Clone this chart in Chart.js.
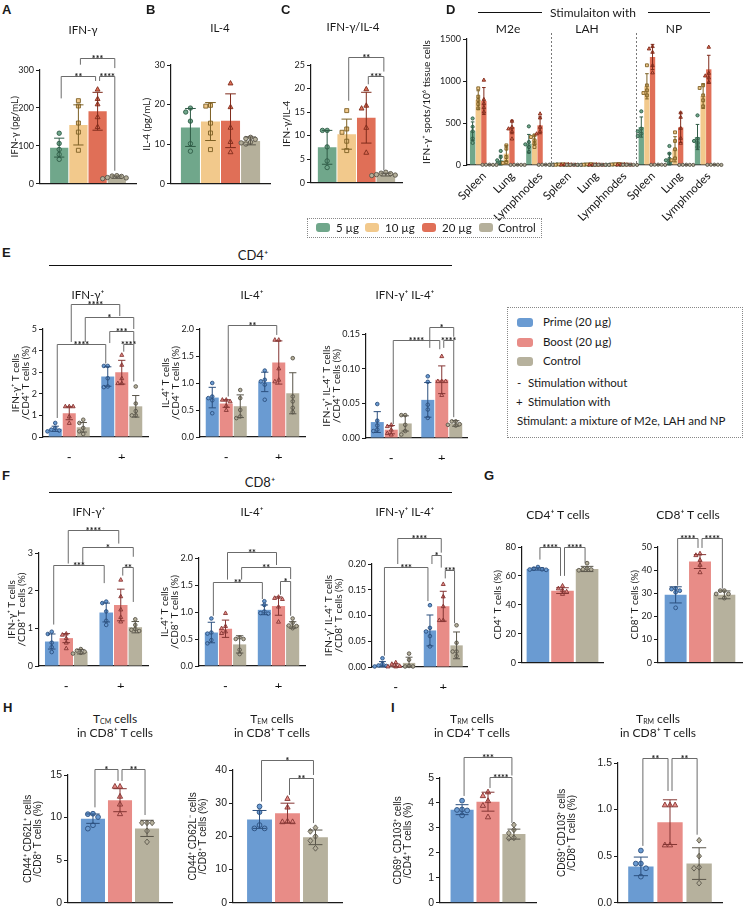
<!DOCTYPE html>
<html lang="en">
<head>
<meta charset="UTF-8">
<title>Immunogenicity panels</title>
<script src="https://cdn.jsdelivr.net/npm/chart.js"></script>
<style>
  body { margin: 0; background: #fff; }
  #stage { position: relative; width: 750px; height: 913px; overflow: hidden; font-family: Lato, "DejaVu Sans", sans-serif; color: #1a1a1a; }
  #stage canvas { position: absolute; }
  .t { position: absolute; white-space: nowrap; transform: translate(-50%, -50%); line-height: 1; }
  .letter { position: absolute; font: bold 13px "Liberation Sans", Arial, sans-serif; line-height: 1; }
  .rule { position: absolute; height: 0; border-top: 1.5px solid #111; }
  .box { position: absolute; border: 1px dotted #888; box-sizing: border-box; }
  .sw { position: absolute; width: 15px; height: 9px; border-radius: 3px; }
  .lg { position: absolute; white-space: nowrap; font-size: 11.5px; line-height: 1; transform: translateY(-50%); }
  .rot { position: absolute; white-space: nowrap; font-size: 11.5px; line-height: 12px; color: #111; transform-origin: 100% 50%; transform: rotate(-45deg); }
  sub { font-size: 7px; vertical-align: -1px; }
</style>
</head>
<body>
<div id="stage"></div>
<script>
// ---------- A-C: cytokines, groups 5 / 10 / 20 ug and Control
const doseGroups = ['5 µg', '10 µg', '20 µg', 'Control'];
const ifngMean = [95, 155, 191, 17];
const ifngSd = [25, 53, 50, 3];
const ifngPts = [[133, 106, 90, 77, 64], [219, 205, 160, 136, 88], [249, 224, 210, 176, 150], [21, 19, 16, 13, 15, 20]];
const ifngSig = [[0, 2, 285, '**', 225, 271], [1, 3, 331, '***', 314, 305], [2, 3, 285, '****', 271, 34]];

const il4Mean = [14.2, 15.7, 15.9, 10.8];
const il4Sd = [4.8, 4.8, 6.8, 1.0];
const il4Pts = [[19.1, 18.1, 15.8, 10.1, 8.2], [19.8, 19.6, 15.3, 12.8, 8.6], [25.4, 19.4, 14.2, 10.6, 8.0], [11.7, 11.2, 10.5, 10.0, 10.3, 11.4]];

const ratioMean = [7.5, 10.3, 13.8, 1.7];
const ratioSd = [3.6, 3.2, 5.4, 0.3];
const ratioPts = [[11.1, 11.1, 7.6, 4.6, 3.2], [15.3, 11.4, 10.7, 8.8, 6.8], [19.9, 16.4, 15.8, 11.7, 6.4], [2.2, 1.9, 1.7, 1.5, 1.6, 2.0]];
const ratioSig = [[1, 3, 26.8, '**', 17.4, 23.6], [2, 3, 22.7, '***', 20.9, 2.6]];

// ---------- D: ELISpot, 3 stimulants x 3 tissues
const stimulants = ['M2e', 'LAH', 'NP'];
const tissues = ['Spleen', 'Lung', 'Lymphnodes'];
const spot5Mean = [403, 56, 254, 5, 3, 4, 452, 63, 333];
const spot5Sd = [110, 60, 110, 3, 2, 3, 120, 80, 150];
const spot5Pts = [[554, 455, 403, 315, 263], [167, 95, 56, 28, 16], [460, 274, 246, 214, 155], [8, 5, 4, 3, 2], [5, 3, 2, 2, 1], [6, 4, 4, 3, 2], [639, 433, 400, 373, 345], [226, 135, 75, 56, 24], [591, 313, 286, 262, 214]];
const spot10Mean = [774, 135, 302, 5, 6, 8, 937, 187, 821];
const spot10Sd = [110, 95, 55, 3, 4, 5, 150, 150, 147];
const spot10Pts = [[913, 814, 774, 726, 674], [234, 194, 95, 36, 24], [353, 333, 294, 254, 214], [8, 6, 5, 3, 2], [10, 7, 6, 4, 3], [12, 9, 7, 6, 5], [1187, 948, 889, 857, 829], [389, 286, 187, 79, 56], [948, 917, 829, 770, 698]];
const spot20Mean = [762, 452, 472, 6, 4, 5, 1286, 448, 1139];
const spot20Sd = [160, 80, 100, 3, 3, 4, 150, 180, 167];
const spot20Pts = [[1013, 782, 734, 686, 634], [524, 452, 433, 401, 313], [611, 563, 452, 401, 373], [9, 7, 5, 4, 3], [7, 5, 4, 3, 2], [8, 6, 5, 4, 3], [1413, 1385, 1345, 1187, 1100], [623, 571, 440, 321, 262], [1405, 1095, 1063, 1040, 988]];
const spotCtrlMean = [3, 2, 3, 2, 2, 3, 3, 2, 3];
const spotCtrlSd = [1, 1, 1, 1, 1, 1, 1, 1, 1];
const spotCtrlPts = [[4, 3, 2, 2, 1], [3, 2, 2, 1, 1], [4, 3, 3, 2, 1], [3, 2, 2, 1, 1], [3, 2, 2, 1, 1], [4, 3, 2, 2, 1], [4, 3, 3, 2, 1], [3, 2, 2, 1, 1], [4, 3, 3, 2, 1]];

// ---------- E-I: Prime / Boost / Control, stimulation - / +
const vaccGroups = ['Prime (20 µg)', 'Boost (20 µg)', 'Control'];
const stimLabels = ['-', '+'];

const cd4IfngMean = [[0.38, 2.8], [1.1, 3.0], [0.45, 1.42]];
const cd4IfngSd = [[0.12, 0.45], [0.3, 0.55], [0.22, 0.5]];
const cd4IfngPts = [[[0.65, 0.42, 0.34, 0.3, 0.26], [3.29, 3.29, 2.72, 2.34, 2.31]], [[1.42, 1.42, 1.42, 0.95, 0.65], [3.8, 3.34, 2.72, 2.49, 2.49]], [[0.8, 0.65, 0.42, 0.26, 0.14], [2.34, 1.55, 1.2, 1.0, 1.0]]];
const cd4IfngSig = [[0, 3, 4.29, '****', 0.88, 3.4], [1, 4, 6.16, '****', 4.4, 5.6], [2, 5, 5.57, '*', 4.4, 5.0], [3, 5, 4.9, '***', 4.35, 4.4], [4, 5, 4.29, '****', 3.95, 2.57]];

const cd4Il4Mean = [[0.73, 1.02], [0.62, 1.38], [0.57, 0.81]];
const cd4Il4Sd = [[0.19, 0.18], [0.07, 0.4], [0.21, 0.38]];
const cd4Il4Pts = [[[1.0, 0.75, 0.72, 0.68, 0.44], [1.23, 1.06, 1.03, 0.97, 0.69]], [[0.69, 0.69, 0.66, 0.58, 0.5], [1.8, 1.8, 1.27, 1.06, 1.03]], [[0.87, 0.72, 0.5, 0.38, 0.35], [1.46, 0.75, 0.66, 0.54, 0.46]]];
const cd4Il4Sig = [[1, 4, 2.07, '**', 0.75, 1.89]];

const cd4DualMean = [[0.023, 0.055], [0.012, 0.084], [0.021, 0.021]];
const cd4DualSd = [[0.015, 0.025], [0.006, 0.02], [0.011, 0.004]];
const cd4DualPts = [[[0.049, 0.025, 0.018, 0.012, 0.01], [0.089, 0.081, 0.048, 0.041, 0.029]], [[0.019, 0.017, 0.012, 0.007, 0.005], [0.118, 0.082, 0.082, 0.082, 0.062]], [[0.033, 0.033, 0.019, 0.01, 0.005], [0.024, 0.024, 0.02, 0.019, 0.018]]];
const cd4DualSig = [[1, 4, 0.141, '****', 0.02, 0.128], [3, 5, 0.16, '*', 0.13, 0.146], [4, 5, 0.141, '****', 0.13, 0.03]];

const cd8IfngMean = [[0.65, 1.42], [0.74, 1.62], [0.38, 1.03]];
const cd8IfngSd = [[0.2, 0.25], [0.12, 0.42], [0.06, 0.15]];
const cd8IfngPts = [[[0.91, 0.85, 0.62, 0.5, 0.37], [1.71, 1.67, 1.45, 1.2, 1.09]], [[0.86, 0.83, 0.74, 0.62, 0.47], [2.29, 1.85, 1.5, 1.3, 1.18]], [[0.45, 0.41, 0.38, 0.35, 0.33], [1.24, 1.09, 0.98, 0.96, 0.93]]];
const cd8IfngSig = [[1, 4, 3.61, '****', 2.72, 3.25], [2, 5, 3.17, '*', 2.72, 2.9], [0, 3, 2.68, '***', 1.1, 2.2], [4, 5, 2.63, '**', 2.4, 1.7]];

const cd8Il4Mean = [[0.62, 1.04], [0.69, 1.11], [0.40, 0.76]];
const cd8Il4Sd = [[0.19, 0.09], [0.16, 0.17], [0.16, 0.06]];
const cd8Il4Pts = [[[0.88, 0.62, 0.6, 0.48, 0.42], [1.2, 1.13, 1.01, 0.98, 0.97]], [[0.98, 0.74, 0.7, 0.64, 0.61], [1.28, 1.26, 1.24, 1.1, 0.82]], [[0.53, 0.5, 0.5, 0.3, 0.22], [0.88, 0.8, 0.75, 0.74, 0.7]]];
const cd8Il4Sig = [[1, 4, 2.12, '**', 1.6, 1.87], [2, 5, 1.83, '**', 1.6, 1.61], [0, 3, 1.56, '**', 0.93, 1.24], [4, 5, 1.57, '*', 1.32, 0.93]];

const cd8DualMean = [[0.0045, 0.071], [0.003, 0.118], [0.008, 0.042]];
const cd8DualSd = [[0.006, 0.03], [0.003, 0.029], [0.011, 0.026]];
const cd8DualPts = [[[0.017, 0.006, 0.003, 0.002, 0.001], [0.12, 0.076, 0.069, 0.06, 0.04]], [[0.009, 0.006, 0.002, 0.001, 0.001], [0.161, 0.137, 0.118, 0.091, 0.091]], [[0.026, 0.014, 0.002, 0.001, 0.001], [0.081, 0.047, 0.03, 0.03, 0.021]]];
const cd8DualSig = [[1, 4, 0.25, '****', 0.2, 0.222], [3, 4, 0.217, '*', 0.2, 0.193], [0, 3, 0.194, '***', 0.022, 0.128], [4, 5, 0.188, '***', 0.172, 0.085]];

const cd4FreqMean = [64.8, 49.8, 64.8];
const cd4FreqSd = [0.8, 2.0, 1.8];
const cd4FreqPts = [[66.1, 65, 64.6, 64.4, 64.2], [53.2, 51.4, 50.3, 49.2, 47.6], [68.8, 65.2, 64.6, 64.4, 63.9]];
const cd4FreqSig = [[0, 1, 80.2, '****', 71.3, 60], [1, 2, 80.2, '****', 60, 69]];

const cd8FreqMean = [29.3, 43.7, 29.3];
const cd8FreqSd = [3.5, 3.0, 1.7];
const cd8FreqPts = [[32.1, 31.8, 31.1, 30.4, 23.7], [47.2, 46.5, 44.4, 42.3, 39.1], [31.1, 31.1, 29.7, 29.7, 27.9]];
const cd8FreqSig = [[0, 1, 53.8, '****', 33.3, 49.6], [1, 2, 53.8, '****', 49.6, 32]];

const tcmMean = [9.87, 12.04, 8.73];
const tcmSd = [0.55, 1.35, 0.95];
const tcmPts = [[10.45, 10.4, 10.06, 9.1, 8.7], [13.67, 13.67, 12.5, 11.58, 10.45], [9.38, 9.38, 9.38, 8.43, 7.14]];
const tcmSig = [[0, 1, 15.65, '*', 11.2, 14.3], [1, 2, 15.65, '**', 14.3, 10.3]];

const temMean = [25.1, 27.0, 19.7];
const temSd = [2.7, 3.0, 2.2];
const temPts = [[29, 27.3, 23.4, 22.4, 22.4], [31.4, 28.8, 24.6, 24.4, 24.4], [22.6, 21.5, 20, 18.7, 16.4]];
const temSig = [[0, 2, 43.1, '*', 30.5, 38.5], [1, 2, 37.5, '**', 32.5, 24]];

const trm4Mean = [3.73, 4.05, 2.75];
const trm4Sd = [0.2, 0.38, 0.2];
const trm4Pts = [[4.09, 3.74, 3.72, 3.7, 3.5], [4.44, 4.29, 4.09, 3.9, 3.44], [3.12, 2.92, 2.79, 2.6, 2.58]];
const trm4Sig = [[0, 2, 5.85, '***', 4.28, 5.1], [1, 2, 5.05, '****', 4.6, 3.2]];

const trm8Mean = [0.39, 0.865, 0.42];
const trm8Sd = [0.1, 0.24, 0.17];
const trm8Pts = [[0.56, 0.42, 0.42, 0.37, 0.28], [1.05, 1.05, 1.05, 0.62, 0.62], [0.67, 0.5, 0.38, 0.37, 0.21]];
const trm8Sig = [[0, 1, 1.555, '**', 0.61, 1.2], [1, 2, 1.555, '**', 1.2, 0.73]];

// ---------- styles
const doseStyle = [
  { color: '#70a78b', edge: '#2f5b46', marker: 'circle' },
  { color: '#f2c98c', edge: '#7d6024', marker: 'square' },
  { color: '#e06f57', edge: '#7f2b1b', marker: 'triangle' },
  { color: '#b5b09b', edge: '#59554a', marker: 'circle' }
];
const vaccStyle = [
  { color: '#6a9bd2', edge: '#2b4f7e', marker: 'circle' },
  { color: '#e88c87', edge: '#843533', marker: 'triangle' },
  { color: '#b6b19d', edge: '#59554a', marker: 'circle' }
];
const lato = 'Lato, "DejaVu Sans", sans-serif';
const arial = '"Liberation Sans", Arial, sans-serif';

const stage = document.getElementById('stage');
const one = a => a.map(v => [v]);

function drawMarker(ctx, type, x, y, r, fill, edge) {
  ctx.beginPath();
  if (type === 'square') ctx.rect(x - r * 0.9, y - r * 0.9, r * 1.8, r * 1.8);
  else if (type === 'triangle') { ctx.moveTo(x, y - r * 1.2); ctx.lineTo(x + r * 1.1, y + r * 0.8); ctx.lineTo(x - r * 1.1, y + r * 0.8); ctx.closePath(); }
  else if (type === 'diamond') { ctx.moveTo(x, y - r * 1.2); ctx.lineTo(x + r, y); ctx.lineTo(x, y + r * 1.2); ctx.lineTo(x - r, y); ctx.closePath(); }
  else ctx.arc(x, y, r, 0, Math.PI * 2);
  ctx.fillStyle = fill; ctx.strokeStyle = edge; ctx.lineWidth = 0.9;
  ctx.fill(); ctx.stroke();
}

// error bars, dots, significance brackets
function makeOverlay(spec) {
  return {
    id: 'overlay',
    afterDatasetsDraw(chart) {
      const ctx = chart.ctx, ys = chart.scales.y, xs = chart.scales.x;
      const area = chart.chartArea;
      const n = chart.data.datasets.length;
      ctx.save();
      if (spec.dividers) {
        ctx.strokeStyle = '#555'; ctx.lineWidth = 0.8; ctx.setLineDash([2, 2]);
        spec.dividers.forEach(v => {
          const x = Math.round(xs.getPixelForValue(v)) + 0.5;
          ctx.beginPath(); ctx.moveTo(x, area.top - 6); ctx.lineTo(x, area.bottom); ctx.stroke();
        });
        ctx.setLineDash([]);
      }
      chart.data.datasets.forEach((ds, di) => {
        chart.getDatasetMeta(di).data.forEach((bar, ci) => {
          const m = ds.data[ci], s = ds.sd[ci];
          const cap = Math.max(1.8, bar.width * 0.28);
          const yt = ys.getPixelForValue(m + s), yb = ys.getPixelForValue(Math.max(0, m - s));
          const step = spec.r * 2 + 0.3;
          const placed = [];
          ds.pts[ci].map(v => ys.getPixelForValue(v)).sort((a, b) => a - b).forEach(py => {
            let px = bar.x;
            for (let k = 0; k < 15; k++) {
              const off = Math.ceil(k / 2) * step * (k % 2 ? -1 : 1);
              if (!placed.some(p => Math.hypot(p[0] - (bar.x + off), p[1] - py) < step - 0.2)) { px = bar.x + off; break; }
            }
            placed.push([px, py]);
            drawMarker(ctx, ds.marker, px, py, spec.r, ds.backgroundColor, ds.edge);
          });
          ctx.strokeStyle = ds.edge; ctx.lineWidth = 1;
          ctx.beginPath();
          ctx.moveTo(bar.x, yt); ctx.lineTo(bar.x, yb);
          ctx.moveTo(bar.x - cap, yt); ctx.lineTo(bar.x + cap, yt);
          ctx.moveTo(bar.x - cap, yb); ctx.lineTo(bar.x + cap, yb);
          ctx.stroke();
        });
      });
      const bx = i => chart.getDatasetMeta(i % n).data[Math.floor(i / n)].x;
      (spec.sig || []).forEach(([a, b, lvl, txt, la, lb]) => {
        const x1 = bx(a) + 2, x2 = bx(b) - 2, y = Math.round(ys.getPixelForValue(lvl)) + 0.5;
        ctx.strokeStyle = '#6b6b6b'; ctx.lineWidth = 1;
        ctx.beginPath();
        ctx.moveTo(x1, ys.getPixelForValue(la)); ctx.lineTo(x1, y); ctx.lineTo(x2, y); ctx.lineTo(x2, ys.getPixelForValue(lb));
        ctx.stroke();
        ctx.fillStyle = '#111'; ctx.font = 'bold 9px ' + lato;
        ctx.textAlign = 'center'; ctx.textBaseline = 'alphabetic';
        ctx.fillText(txt, (x1 + x2) / 2, y + 3);
      });
      ctx.restore();
    }
  };
}

function draw(spec) {
  const yW = spec.L - spec.titleX + 8, padT = 40, padR = 8, xH = spec.xH || 4;
  const fam = spec.font || lato;
  const canvas = document.createElement('canvas');
  canvas.width = spec.R - spec.L + yW + padR;
  canvas.height = spec.B - spec.T + padT + xH;
  const left = spec.L - yW, top = spec.T - padT;
  canvas.style.left = left + 'px';
  canvas.style.top = top + 'px';
  stage.appendChild(canvas);
  const xTicks = spec.stimTicks
    ? { font: { family: fam, size: 13 }, color: '#111', padding: 5, maxRotation: 0 }
    : { display: false };
  const chart = new Chart(canvas, {
    type: 'bar',
    data: {
      labels: spec.labels,
      datasets: spec.style.map((st, g) => ({
        label: spec.groups[g],
        data: spec.mean[g], sd: spec.sd[g], pts: spec.pts[g],
        backgroundColor: st.color, edge: st.edge,
        marker: (g === spec.style.length - 1 && spec.ctrlMarker) || st.marker,
        categoryPercentage: spec.cat, barPercentage: spec.bar
      }))
    },
    options: {
      responsive: false, animation: false, events: [],
      layout: { padding: { top: padT, right: padR, left: 0, bottom: 0 } },
      plugins: { legend: { display: false }, tooltip: { enabled: false } },
      scales: {
        x: {
          grid: { display: false },
          border: { color: '#1a1a1a', width: 1.2 },
          ticks: xTicks,
          afterFit: s => { s.height = xH; }
        },
        y: {
          min: 0, max: spec.max,
          ticks: { stepSize: spec.step, font: { family: fam, size: spec.tick || 9 }, color: '#222', padding: 2, callback: v => Number(v).toFixed(spec.dec || 0) },
          grid: { drawOnChartArea: false, tickLength: 4, color: '#1a1a1a', lineWidth: 1 },
          border: { color: '#1a1a1a', width: 1.2 },
          title: { display: true, text: spec.yTitle, color: '#1a1a1a', font: { family: fam, size: spec.titleSize || 10, lineHeight: 1 }, padding: { top: 3, bottom: 0 } },
          afterFit: s => { s.width = yW; }
        }
      }
    },
    plugins: [makeOverlay(spec)]
  });
  // slanted category labels (panel D), placed from the x scale
  if (spec.rotLabels) {
    const xs = chart.scales.x, bottom = chart.chartArea.bottom;
    spec.labels.forEach((lab, i) => {
      const d = document.createElement('div');
      d.className = 'rot'; d.textContent = lab;
      d.style.right = (750 - (left + xs.getPixelForValue(i) + 3)) + 'px';
      d.style.top = (top + bottom + 9 - 6) + 'px';
      stage.appendChild(d);
    });
  }
  return chart;
}

const dose = { groups: doseGroups, style: doseStyle, labels: [''], r: 2.2 };
draw({ ...dose, L: 40, T: 70, R: 136, B: 187, titleX: 15, max: 300, step: 100, yTitle: 'IFN-γ (pg/mL)', mean: one(ifngMean), sd: one(ifngSd), pts: one(ifngPts), cat: 0.8, bar: 0.95, sig: ifngSig });
draw({ ...dose, L: 171, T: 65, R: 270, B: 187, titleX: 147, max: 30, step: 10, yTitle: 'IL-4 (pg/mL)', mean: one(il4Mean), sd: one(il4Sd), pts: one(il4Pts), cat: 0.81, bar: 0.95 });
draw({ ...dose, L: 311, T: 65, R: 402, B: 186, titleX: 287, max: 25, step: 5, yTitle: 'IFN-γ/IL-4', mean: one(ratioMean), sd: one(ratioSd), pts: one(ratioPts), cat: 0.86, bar: 0.95, sig: ratioSig });
draw({ groups: doseGroups, style: doseStyle, labels: stimulants.flatMap(() => tissues), r: 1.6, rotLabels: true, xH: 56, dividers: [2.5, 5.5],
  L: 467, T: 39, R: 720, B: 165, titleX: 427, max: 1500, step: 500, yTitle: 'IFN-γ⁺ spots/10⁶ tissue cells',
  mean: [spot5Mean, spot10Mean, spot20Mean, spotCtrlMean], sd: [spot5Sd, spot10Sd, spot20Sd, spotCtrlSd], pts: [spot5Pts, spot10Pts, spot20Pts, spotCtrlPts], cat: 0.8, bar: 0.95 });

const stim = { groups: vaccGroups, style: vaccStyle, labels: stimLabels, r: 1.8, stimTicks: true, xH: 22, cat: 0.8, bar: 0.93 };
draw({ ...stim, L: 43, T: 329, R: 148, B: 437, titleX: 16, max: 5, step: 1, yTitle: ['IFN-γ⁺ T cells', '/CD4⁺ T cells (%)'], mean: cd4IfngMean, sd: cd4IfngSd, pts: cd4IfngPts, sig: cd4IfngSig });
draw({ ...stim, L: 200, T: 329, R: 305, B: 437, titleX: 166, max: 2, step: 0.5, dec: 1, yTitle: ['IL-4⁺ T cells', '/CD4⁺ T cells (%)'], mean: cd4Il4Mean, sd: cd4Il4Sd, pts: cd4Il4Pts, sig: cd4Il4Sig });
draw({ ...stim, L: 366, T: 334, R: 467, B: 438, titleX: 327, max: 0.15, step: 0.05, dec: 2, yTitle: ['IFN-γ⁺ IL-4⁺ T cells', '/CD4⁺ T cells (%)'], mean: cd4DualMean, sd: cd4DualSd, pts: cd4DualPts, sig: cd4DualSig, cat: 0.83 });
draw({ ...stim, L: 39, T: 553, R: 148, B: 666, titleX: 12, max: 3, step: 1, yTitle: ['IFN-γ⁺ T cells', '/CD8⁺ T cells (%)'], mean: cd8IfngMean, sd: cd8IfngSd, pts: cd8IfngPts, sig: cd8IfngSig });
draw({ ...stim, L: 199, T: 558, R: 305, B: 666, titleX: 165, max: 2, step: 0.5, dec: 1, yTitle: ['IL-4⁺ T cells', '/CD8⁺ T cells (%)'], mean: cd8Il4Mean, sd: cd8Il4Sd, pts: cd8Il4Pts, sig: cd8Il4Sig });
draw({ ...stim, L: 372, T: 564, R: 467, B: 667, titleX: 329, max: 0.2, step: 0.05, dec: 2, yTitle: ['IFN-γ⁺ IL-4⁺ T cells', '/CD8⁺ T cells (%)'], mean: cd8DualMean, sd: cd8DualSd, pts: cd8DualPts, sig: cd8DualSig, cat: 0.84 });

const three = { groups: vaccGroups, style: vaccStyle, labels: [''] };
draw({ ...three, r: 1.9, L: 522, T: 547, R: 603, B: 666, titleX: 498, max: 80, step: 20, yTitle: 'CD4⁺ T cells (%)', mean: one(cd4FreqMean), sd: one(cd4FreqSd), pts: one(cd4FreqPts), sig: cd4FreqSig, cat: 0.91, bar: 0.92 });
draw({ ...three, r: 1.9, L: 658, T: 547, R: 742, B: 666, titleX: 635, max: 50, step: 10, yTitle: 'CD8⁺ T cells (%)', mean: one(cd8FreqMean), sd: one(cd8FreqSd), pts: one(cd8FreqPts), sig: cd8FreqSig, cat: 0.87, bar: 0.9 });

const mem = { ...three, r: 2.4, font: arial, tick: 10.5, ctrlMarker: 'diamond', bar: 0.89 };
draw({ ...mem, L: 68, T: 775, R: 172, B: 907, titleX: 28, max: 15, step: 5, yTitle: ['CD44⁺ CD62L⁺ cells', '/CD8⁺ T cells (%)'], mean: one(tcmMean), sd: one(tcmSd), pts: one(tcmPts), sig: tcmSig, cat: 0.78 });
draw({ ...mem, L: 233, T: 770, R: 342, B: 907, titleX: 193, max: 40, step: 10, yTitle: ['CD44⁺ CD62L⁻ cells', '/CD8⁺ T cells (%)'], mean: one(temMean), sd: one(temSd), pts: one(temPts), sig: temSig, cat: 0.77 });
draw({ ...mem, L: 440, T: 778, R: 536, B: 907, titleX: 398, max: 5, step: 1, yTitle: ['CD69⁺ CD103⁺ cells', '/CD4⁺ T cells (%)'], mean: one(trm4Mean), sd: one(trm4Sd), pts: one(trm4Pts), sig: trm4Sig, cat: 0.81 });
draw({ ...mem, L: 618, T: 763, R: 722, B: 907, titleX: 562, max: 1.5, step: 0.5, dec: 1, yTitle: ['CD69⁺ CD103⁺ cells', '/CD8⁺ T cells (%)'], mean: one(trm8Mean), sd: one(trm8Sd), pts: one(trm8Pts), sig: trm8Sig, cat: 0.84, bar: 0.87 });

// ---------- text, rules, legends
function put(cls, x, y, html, css) {
  const d = document.createElement('div');
  d.className = cls; d.innerHTML = html;
  d.style.left = x + 'px'; d.style.top = y + 'px';
  if (css) Object.assign(d.style, css);
  stage.appendChild(d);
  return d;
}
const rule = (x1, x2, y) => put('rule', x1, y, '', { width: (x2 - x1) + 'px' });

[['A', 2, 3], ['B', 146, 3], ['C', 281, 3], ['D', 446, 3], ['E', 2, 246], ['F', 2, 469], ['G', 484, 469], ['H', 3, 701], ['I', 391, 701]]
  .forEach(([s, x, y]) => put('letter', x, y, s));

const sub = { fontSize: '11.5px' };
put('t', 83, 30, 'IFN-γ', sub);
put('t', 220, 28, 'IL-4', sub);
put('t', 353, 27, 'IFN-γ/IL-4', sub);

put('t', 593, 13, 'Stimulaiton with', { fontSize: '12px' });
rule(478, 542, 12); rule(648, 710, 12);
put('t', 508, 29, stimulants[0], { fontSize: '12px' });
put('t', 587, 29, stimulants[1], { fontSize: '12px' });
put('t', 674, 29, stimulants[2], { fontSize: '12px' });

put('t', 253, 255, 'CD4⁺', { fontSize: '13px' });
rule(49, 452, 265);
put('t', 88, 295, 'IFN-γ⁺', sub); put('t', 252, 295, 'IL-4⁺', sub); put('t', 405, 295, 'IFN-γ⁺ IL-4⁺', sub);

put('t', 260, 482, 'CD8⁺', { fontSize: '13px' });
rule(49, 452, 492);
put('t', 89, 512, 'IFN-γ⁺', sub); put('t', 252, 512, 'IL-4⁺', sub); put('t', 405, 512, 'IFN-γ⁺ IL-4⁺', sub);

put('t', 558, 515, 'CD4⁺ T cells', { fontSize: '12px' });
put('t', 688, 515, 'CD8⁺ T cells', { fontSize: '12px' });

const mt = { fontSize: '12px' };
put('t', 115, 719, 'T<sub>CM</sub> cells', mt); put('t', 115, 733, 'in CD8⁺ T cells', mt);
put('t', 272, 719, 'T<sub>EM</sub> cells', mt); put('t', 272, 733, 'in CD8⁺ T cells', mt);
put('t', 472, 719, 'T<sub>RM</sub> cells', mt); put('t', 472, 733, 'in CD4⁺ T cells', mt);
put('t', 658, 719, 'T<sub>RM</sub> cells', mt); put('t', 658, 733, 'in CD8⁺ T cells', mt);

// dose legend
put('box', 307, 218, '', { width: '235px', height: '20px' });
[[316, 336], [365, 385], [422, 442], [479, 498]].forEach(([sx, tx], i) => {
  put('sw', sx, 223, '', { background: doseStyle[i].color, width: '14px' });
  put('lg', tx, 228, doseGroups[i]);
});

// vaccination legend
put('box', 507, 307, '', { width: '236px', height: '131px' });
[322, 342, 361].forEach((y, i) => {
  put('sw', 517, y - 4.5, '', { background: vaccStyle[i].color, width: '16px' });
  put('lg', 543, y, vaccGroups[i]);
});
put('lg', 517, 383, '-'); put('lg', 528, 383, 'Stimulation without');
put('lg', 516, 402, '+'); put('lg', 528, 402, 'Stimulation with');
put('lg', 517, 421, 'Stimulant: a mixture of M2e, LAH and NP');
</script>
</body>
</html>
